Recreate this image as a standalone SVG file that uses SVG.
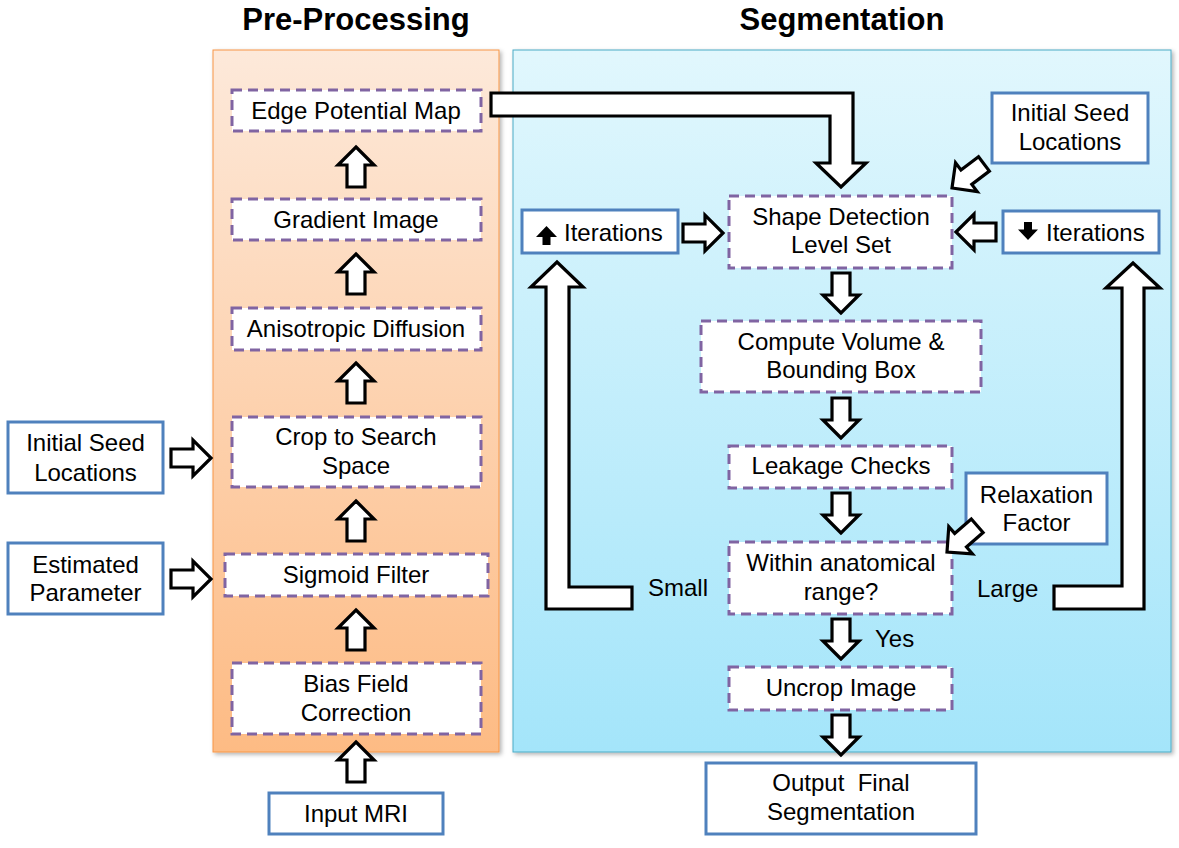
<svg xmlns="http://www.w3.org/2000/svg" width="1179" height="848" viewBox="0 0 1179 848">
  <defs>
    <linearGradient id="gPre" x1="0" y1="0" x2="0" y2="1">
      <stop offset="0" stop-color="#fde9da"/>
      <stop offset="1" stop-color="#fdbb84"/>
    </linearGradient>
    <linearGradient id="gSeg" x1="0" y1="0" x2="0" y2="1">
      <stop offset="0" stop-color="#e1f7fd"/>
      <stop offset="1" stop-color="#a4e5fa"/>
    </linearGradient>
    <filter id="sh" x="-5%" y="-5%" width="110%" height="110%">
      <feDropShadow dx="2" dy="2" stdDeviation="2" flood-color="#000" flood-opacity="0.3"/>
    </filter>
    <path id="arr" d="M0,0 L18,18 L9,18 L9,40 L-9,40 L-9,18 L-18,18 Z"/>
    <style>
      text { font-family: "Liberation Sans", Arial, sans-serif; font-size: 24px; fill: #000; }
      .title { font-weight: bold; font-size: 31px; text-anchor: middle; }
      .c { text-anchor: middle; }
      .dash { fill: #fff; stroke: #8064a2; stroke-width: 3; stroke-dasharray: 10 6; }
      .blue { fill: #fff; stroke: #4f81bd; stroke-width: 3; }
      .ar { fill: #fff; stroke: #000; stroke-width: 3.2; stroke-linejoin: miter; }
    </style>
  </defs>
  <rect width="1179" height="848" fill="#fff"/>

  <!-- Panels -->
  <g id="panel-pre">
    <rect x="213" y="50" width="286" height="702" fill="url(#gPre)" stroke="#f79646" stroke-width="1" filter="url(#sh)"/>
    <text class="title" x="356" y="30">Pre-Processing</text>
  </g>
  <g id="panel-seg">
    <rect x="513" y="50" width="658" height="702" fill="url(#gSeg)" stroke="#4bacc6" stroke-width="1" filter="url(#sh)"/>
    <text class="title" x="842" y="30">Segmentation</text>
  </g>

  <!-- Pre-processing nodes -->
  <g id="edge-potential-map">
    <rect class="dash" x="232" y="90" width="249" height="41"/>
    <text class="c" x="356" y="119">Edge Potential Map</text>
  </g>
  <g id="gradient-image">
    <rect class="dash" x="232" y="199" width="249" height="41"/>
    <text class="c" x="356" y="228">Gradient Image</text>
  </g>
  <g id="anisotropic-diffusion">
    <rect class="dash" x="232" y="308" width="249" height="42"/>
    <text class="c" x="356" y="337">Anisotropic Diffusion</text>
  </g>
  <g id="crop-search-space">
    <rect class="dash" x="232" y="417" width="249" height="70"/>
    <text class="c" x="356" y="445">Crop to Search</text>
    <text class="c" x="356" y="474">Space</text>
  </g>
  <g id="sigmoid-filter">
    <rect class="dash" x="225" y="554" width="263" height="42"/>
    <text class="c" x="356" y="583">Sigmoid Filter</text>
  </g>
  <g id="bias-field-correction">
    <rect class="dash" x="232" y="663" width="249" height="71"/>
    <text class="c" x="356" y="692">Bias Field</text>
    <text class="c" x="356" y="721">Correction</text>
  </g>
  <g id="input-mri">
    <rect class="blue" x="269" y="793" width="174" height="41"/>
    <text class="c" x="356" y="822">Input MRI</text>
  </g>
  <g id="seed-left">
    <rect class="blue" x="8" y="422" width="155" height="71"/>
    <text class="c" x="85.5" y="451">Initial Seed</text>
    <text class="c" x="85.5" y="481">Locations</text>
  </g>
  <g id="estimated-parameter">
    <rect class="blue" x="8" y="543" width="155" height="71"/>
    <text class="c" x="85.5" y="573">Estimated</text>
    <text class="c" x="85.5" y="601">Parameter</text>
  </g>

  <!-- Segmentation nodes -->
  <g id="shape-detection">
    <rect class="dash" x="729" y="196" width="223" height="72"/>
    <text class="c" x="841" y="225">Shape Detection</text>
    <text class="c" x="841" y="253">Level Set</text>
  </g>
  <g id="compute-volume">
    <rect class="dash" x="701" y="321" width="280" height="71"/>
    <text class="c" x="841" y="350">Compute Volume &amp;</text>
    <text class="c" x="841" y="378">Bounding Box</text>
  </g>
  <g id="leakage-checks">
    <rect class="dash" x="729" y="446" width="223" height="42"/>
    <text class="c" x="841" y="474">Leakage Checks</text>
  </g>
  <g id="anatomical-range">
    <rect class="dash" x="729" y="542" width="223" height="72"/>
    <text class="c" x="841" y="571">Within anatomical</text>
    <text class="c" x="841" y="600">range?</text>
  </g>
  <g id="uncrop-image">
    <rect class="dash" x="729" y="667" width="223" height="43"/>
    <text class="c" x="841" y="696">Uncrop Image</text>
  </g>
  <g id="output-final">
    <rect class="blue" x="706" y="763" width="270" height="71"/>
    <text class="c" x="841" y="791" xml:space="preserve">Output  Final</text>
    <text class="c" x="841" y="820">Segmentation</text>
  </g>
  <g id="seed-right">
    <rect class="blue" x="992" y="93" width="156" height="70"/>
    <text class="c" x="1070" y="121">Initial Seed</text>
    <text class="c" x="1070" y="150">Locations</text>
  </g>
  <g id="iterations-up">
    <rect class="blue" x="522" y="210" width="156" height="43"/>
    <polygon points="546.5,226 557,237 550.5,237 550.5,245 542.5,245 542.5,237 536,237" fill="#000"/>
    <text x="564" y="241">Iterations</text>
  </g>
  <g id="iterations-down">
    <rect class="blue" x="1003" y="211" width="156" height="42"/>
    <polygon points="1028,240 1038,229.5 1032,229.5 1032,222 1024,222 1024,229.5 1018,229.5" fill="#000"/>
    <text x="1046" y="241">Iterations</text>
  </g>
  <g id="relaxation-factor">
    <rect class="blue" x="966" y="473" width="141" height="71"/>
    <text class="c" x="1036.5" y="503">Relaxation</text>
    <text class="c" x="1036.5" y="531">Factor</text>
  </g>

  <!-- Connectors -->
  <g id="connectors" class="ar">
    <use href="#arr" transform="translate(356,147)"/>
    <use href="#arr" transform="translate(356,254)"/>
    <use href="#arr" transform="translate(356,363)"/>
    <use href="#arr" transform="translate(356,501)"/>
    <use href="#arr" transform="translate(356,610)"/>
    <use href="#arr" transform="translate(356,742)"/>
    <use href="#arr" transform="translate(211,458) rotate(90)"/>
    <use href="#arr" transform="translate(211,579) rotate(90)"/>
    <path d="M491,93 L853,93 L853,163 L866,163 L841,187 L816,163 L830,163 L830,116 L491,116 Z"/>
    <use href="#arr" transform="translate(723,233) rotate(90)"/>
    <use href="#arr" transform="translate(956,232) rotate(-90)"/>
    <use href="#arr" transform="translate(952,188) rotate(-127)"/>
    <use href="#arr" transform="translate(947,552) rotate(-131)"/>
    <use href="#arr" transform="translate(841,313) rotate(180)"/>
    <use href="#arr" transform="translate(841,438) rotate(180)"/>
    <use href="#arr" transform="translate(841,533) rotate(180)"/>
    <use href="#arr" transform="translate(841,659) rotate(180)"/>
    <use href="#arr" transform="translate(841,755) rotate(180)"/>
    <path d="M546,287 L531,287 L557,262 L583,287 L569,287 L569,587 L632,587 L632,609 L546,609 Z"/>
    <path d="M1054,586 L1122,586 L1122,288 L1106,288 L1133,263 L1160,288 L1144,288 L1144,609 L1054,609 Z"/>
  </g>
  <g id="connector-labels">
    <text x="648" y="596">Small</text>
    <text x="977" y="597">Large</text>
    <text x="875" y="647">Yes</text>
  </g>
</svg>
